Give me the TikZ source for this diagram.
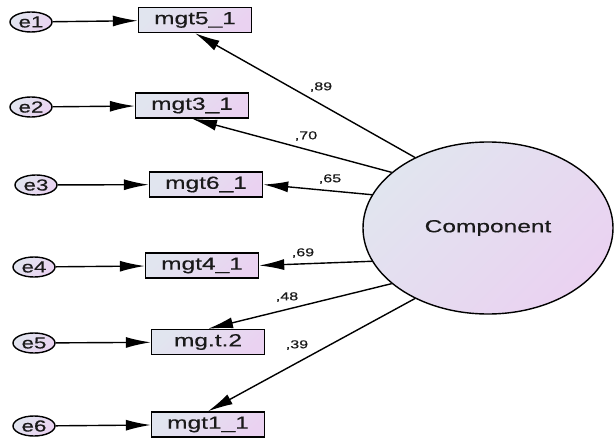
\documentclass[tikz,border=0pt]{standalone}
\usepackage{fontspec}
\setmainfont{Liberation Sans}[FakeStretch=1.4, FakeBold=0.4]
\usetikzlibrary{shapes.geometric,arrows.meta}
\definecolor{shadeA}{HTML}{E1E5EF}
\definecolor{shadeB}{HTML}{EAD2F1}
\definecolor{ink}{HTML}{1A1A1A}
\tikzset{
  filled/.style={draw=black, line width=1.4pt, shading=axis,
    top color=shadeA, bottom color=shadeB, shading angle=45, text=ink},
  obsbox/.style={filled, rectangle, minimum width=113pt, minimum height=25pt,
    inner sep=0pt, font=\fontsize{17.5}{20}\selectfont},
  errnode/.style={filled, ellipse, minimum width=42pt, minimum height=20pt,
    inner sep=0pt, font=\fontsize{16}{18}\selectfont},
  latent/.style={filled, ellipse, minimum width=250pt, minimum height=172pt,
    inner sep=0pt, font=\fontsize{17.5}{20}\selectfont},
  conn/.style={line width=1.4pt, -{Latex[length=25pt,width=11pt]}},
  coef/.style={font=\fontsize{11.5}{13}\selectfont, inner sep=0pt, text=ink}
}
\begin{document}
\begin{tikzpicture}[x=1pt, y=-1pt]
  \fill[white] (0,0) rectangle (615,441);
  \useasboundingbox (0,0) rectangle (615,441);

  % latent factor
  \node[latent] (C) at (488,228) {Component};

  % observed indicators
  \node[obsbox] (m5) at (195,20)    {mgt5\_1};
  \node[obsbox] (m3) at (192,105.5) {mgt3\_1};
  \node[obsbox] (m6) at (206,184.5) {mgt6\_1};
  \node[obsbox] (m4) at (202,265.5) {mgt4\_1};
  \node[obsbox] (m2) at (208,342)   {mg.t.2};
  \node[obsbox] (m1) at (208,424.5) {mgt1\_1};

  % error terms
  \node[errnode] (e1) at (31,22)  {e1};
  \node[errnode] (e2) at (31,107) {e2};
  \node[errnode] (e3) at (36,185) {e3};
  \node[errnode] (e4) at (34,267) {e4};
  \node[errnode] (e5) at (34,343) {e5};
  \node[errnode] (e6) at (34,426) {e6};

  % error paths
  \draw[conn] (e1) -- (m5);
  \draw[conn] (e2) -- (m3);
  \draw[conn] (e3) -- (m6);
  \draw[conn] (e4) -- (m4);
  \draw[conn] (e5) -- (m2);
  \draw[conn] (e6) -- (m1);

  % loadings
  \draw[conn] (C.136) -- (m5.south);
  \draw[conn] (C.150) -- (m3.south);
  \draw[conn] (C.164) -- (m6.east);
  \draw[conn] (C.196) -- (m4.east);
  \draw[conn] (C.210) -- (m2.north);
  \draw[conn] (C.224) -- (m1.north);

  % standardized coefficients
  \node[coef] (l5) at (321,87)  {,89};
  \node[coef] (l3) at (306,136) {,70};
  \node[coef] (l6) at (330,179) {,65};
  \node[coef] (l4) at (303,253) {,69};
  \node[coef] (l2) at (287,297) {,48};
  \node[coef] (l1) at (297,345) {,39};
\end{tikzpicture}
\end{document}
